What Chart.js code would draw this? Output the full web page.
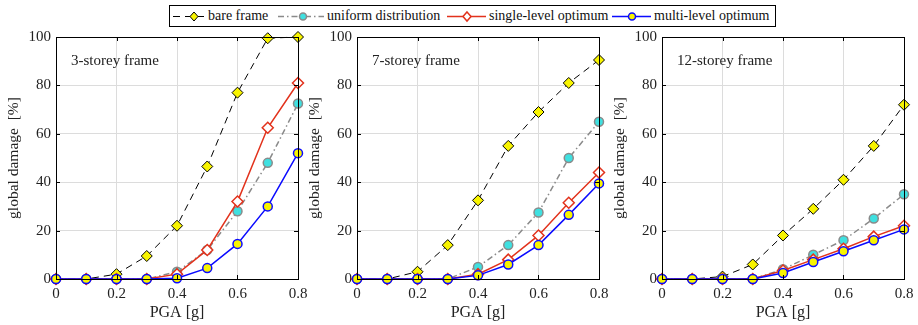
<!DOCTYPE html>
<html>
<head>
<meta charset="utf-8">
<script src="https://cdn.jsdelivr.net/npm/chart.js@4"></script>
<style>
    body { margin: 0; background: #fff; width: 918px; height: 325px; position: relative; overflow: hidden; }
    .panel { position: absolute; top: 30px; width: 310px; height: 295px; }
    #legend { position: absolute; left: 169px; top: 5px; width: 605px; height: 20px; border: 1px solid #000;
              font-family: "Liberation Serif", "Times New Roman", serif; font-size: 14px; color: #111; }
    #legend svg, #legend span { position: absolute; top: 0; }
    #legend span { line-height: 20px; white-space: nowrap; }
</style>
</head>
<body>
<div id="legend"></div>
<div class="panel" style="left:0px"><canvas id="chart3"></canvas></div>
<div class="panel" style="left:301px"><canvas id="chart7"></canvas></div>
<div class="panel" style="left:606px"><canvas id="chart12"></canvas></div>

<script>
// PGA levels [g]
const pga = [0, 0.1, 0.2, 0.3, 0.4, 0.5, 0.6, 0.7, 0.8];
const xTicks = [0, 0.2, 0.4, 0.6, 0.8];
const yTicks = [0, 20, 40, 60, 80, 100];

// global damage [%], 3-storey frame
const bare3 = [0, 0, 2, 9.5, 22, 46.5, 77, 99.5, 100];
const uniform3 = [0, 0, 0, 0, 3, 12, 28, 48, 72.5];
const single3 = [0, 0, 0, 0, 2, 12, 32, 62.5, 81];
const multi3 = [0, 0, 0, 0, 0.3, 4.5, 14.5, 30, 52];

// 7-storey frame
const bare7 = [0, 0, 3, 14, 32.5, 55, 69, 81, 90.5];
const uniform7 = [0, 0, 0, 0, 5, 14, 27.5, 50, 65];
const single7 = [0, 0, 0, 0, 2, 8, 18, 31.5, 44];
const multi7 = [0, 0, 0, 0, 1.5, 6, 14, 26.5, 39.5];

// 12-storey frame
const bare12 = [0, 0, 1, 6, 18, 29, 41, 55, 72];
const uniform12 = [0, 0, 0, 0, 4, 10, 16, 25, 35];
const single12 = [0, 0, 0, 0, 3.5, 8, 12.5, 17.5, 22];
const multi12 = [0, 0, 0, 0, 2.5, 7, 11.5, 16, 20.5];

const seriesNames = ['bare frame', 'uniform distribution', 'single-level optimum', 'multi-level optimum'];

const FONT = '"Liberation Serif", "Times New Roman", serif';
const RED = '#e2321c';
const BLUE = '#0a0aff';
const GRAY = '#8a8a8a';
const YELLOW = '#f8f400';
const CYAN = '#3fe0e0';

const styles = [
    { borderColor: '#000', borderWidth: 1, borderDash: [7, 5], pointStyle: 'rectRot', pointRadius: 5.5,
      pointBackgroundColor: YELLOW, pointBorderColor: '#000', pointBorderWidth: 1, order: 3 },
    { borderColor: GRAY, borderWidth: 1.5, borderDash: [6, 3, 1.5, 3], pointStyle: 'circle', pointRadius: 4.5,
      pointBackgroundColor: CYAN, pointBorderColor: GRAY, pointBorderWidth: 1.5, order: 2 },
    { borderColor: RED, borderWidth: 1.5, borderDash: [], pointStyle: 'rectRot', pointRadius: 5.5,
      pointBackgroundColor: '#fff', pointBorderColor: RED, pointBorderWidth: 1.5, order: 1 },
    { borderColor: BLUE, borderWidth: 1.5, borderDash: [], pointStyle: 'circle', pointRadius: 4.5,
      pointBackgroundColor: YELLOW, pointBorderColor: BLUE, pointBorderWidth: 1.5, order: 0 }
];

// frame box, inward tick marks and the panel caption
const framePlugin = {
    id: 'frame',
    afterDraw(chart, args, opts) {
        const { ctx, chartArea: a, scales } = chart;
        ctx.save();
        ctx.strokeStyle = '#000';
        ctx.lineWidth = 1;
        ctx.beginPath();
        xTicks.forEach(v => {
            const px = Math.round(scales.x.getPixelForValue(v)) + 0.5;
            ctx.moveTo(px, a.bottom); ctx.lineTo(px, a.bottom - 4);
            ctx.moveTo(px, a.top); ctx.lineTo(px, a.top + 4);
        });
        yTicks.forEach(v => {
            const py = Math.round(scales.y.getPixelForValue(v)) + 0.5;
            ctx.moveTo(a.left, py); ctx.lineTo(a.left + 4, py);
            ctx.moveTo(a.right, py); ctx.lineTo(a.right - 4, py);
        });
        ctx.stroke();
        ctx.strokeRect(Math.round(a.left) + 0.5, Math.round(a.top) + 0.5,
            Math.round(a.right - a.left), Math.round(a.bottom - a.top));
        ctx.fillStyle = '#222';
        ctx.font = '15px ' + FONT;
        ctx.textBaseline = 'middle';
        ctx.fillText(opts.caption, a.left + 15, a.top + 24);
        ctx.restore();
    }
};

function makeChart(id, caption, values) {
    const datasets = values.map((vals, i) => Object.assign({
        label: seriesNames[i],
        data: pga.map((x, j) => ({ x: x, y: vals[j] })),
        fill: false,
        tension: 0,
        clip: 8
    }, styles[i]));

    return new Chart(document.getElementById(id), {
        type: 'line',
        data: { datasets },
        options: {
            responsive: false,
            animation: false,
            devicePixelRatio: 1,
            layout: { padding: { top: 7, right: 12, left: 0, bottom: 0 } },
            plugins: {
                legend: { display: false },
                tooltip: { enabled: false },
                frame: { caption: caption }
            },
            scales: {
                x: {
                    type: 'linear', min: 0, max: 0.8,
                    afterBuildTicks: s => { s.ticks = xTicks.map(v => ({ value: v })); },
                    afterFit: s => { s.height = 46; s.paddingLeft = 0; s.paddingRight = 0; },
                    grid: { color: '#dcdcdc', drawTicks: false },
                    border: { display: false },
                    ticks: { color: '#222', padding: 6, font: { family: FONT, size: 15 },
                             callback: v => String(v) },
                    title: { display: true, text: 'PGA [g]', color: '#222',
                             font: { family: FONT, size: 16 }, padding: { top: 0, bottom: 3 } }
                },
                y: {
                    type: 'linear', min: 0, max: 100,
                    afterBuildTicks: s => { s.ticks = yTicks.map(v => ({ value: v })); },
                    afterFit: s => { s.width = 56; s.paddingTop = 0; s.paddingBottom = 0; },
                    grid: { color: '#dcdcdc', drawTicks: false },
                    border: { display: false },
                    ticks: { color: '#222', padding: 5, font: { family: FONT, size: 15 } },
                    title: { display: true, text: 'global damage  [%]', color: '#222',
                             font: { family: FONT, size: 15.5 }, padding: { top: 5, bottom: 0 } }
                }
            }
        },
        plugins: [framePlugin]
    });
}

function setSize(id) {
    const c = document.getElementById(id);
    c.width = 310; c.height = 295;
    c.style.width = '310px'; c.style.height = '295px';
}

['chart3', 'chart7', 'chart12'].forEach(setSize);

makeChart('chart3', '3-storey frame', [bare3, uniform3, single3, multi3]);
makeChart('chart7', '7-storey frame', [bare7, uniform7, single7, multi7]);
makeChart('chart12', '12-storey frame', [bare12, uniform12, single12, multi12]);

// legend built from the same series styles; offsets inside the legend box
const legendSlots = [
    { glyph: 3, width: 34, marker: 21, text: 38 },
    { glyph: 108, width: 46, marker: 25, text: 157 },
    { glyph: 277, width: 39, marker: 20, text: 319 },
    { glyph: 442, width: 39, marker: 20, text: 484 }
];

function legendGlyph(s, slot) {
    const dash = s.borderDash.length ? ` stroke-dasharray="${s.borderDash.join(' ')}"` : '';
    const m = slot.marker;
    let marker;
    if (s.pointStyle === 'rectRot') {
        marker = `<polygon points="${m},6 ${m + 4},10.5 ${m},15 ${m - 4},10.5" fill="${s.pointBackgroundColor}" stroke="${s.pointBorderColor}" stroke-width="${s.pointBorderWidth}"/>`;
    } else {
        marker = `<circle cx="${m}" cy="10.5" r="3.5" fill="${s.pointBackgroundColor}" stroke="${s.pointBorderColor}" stroke-width="${s.pointBorderWidth}"/>`;
    }
    return `<svg width="${slot.width}" height="20" style="left:${slot.glyph}px"><line x1="0" y1="10.5" x2="${slot.width}" y2="10.5" stroke="${s.borderColor}" stroke-width="${s.borderWidth}"${dash}/>${marker}</svg>`;
}

const legend = document.getElementById('legend');
seriesNames.forEach((name, i) => {
    const slot = legendSlots[i];
    legend.insertAdjacentHTML('beforeend',
        legendGlyph(styles[i], slot) + `<span style="left:${slot.text}px">${name}</span>`);
});
</script>
</body>
</html>
